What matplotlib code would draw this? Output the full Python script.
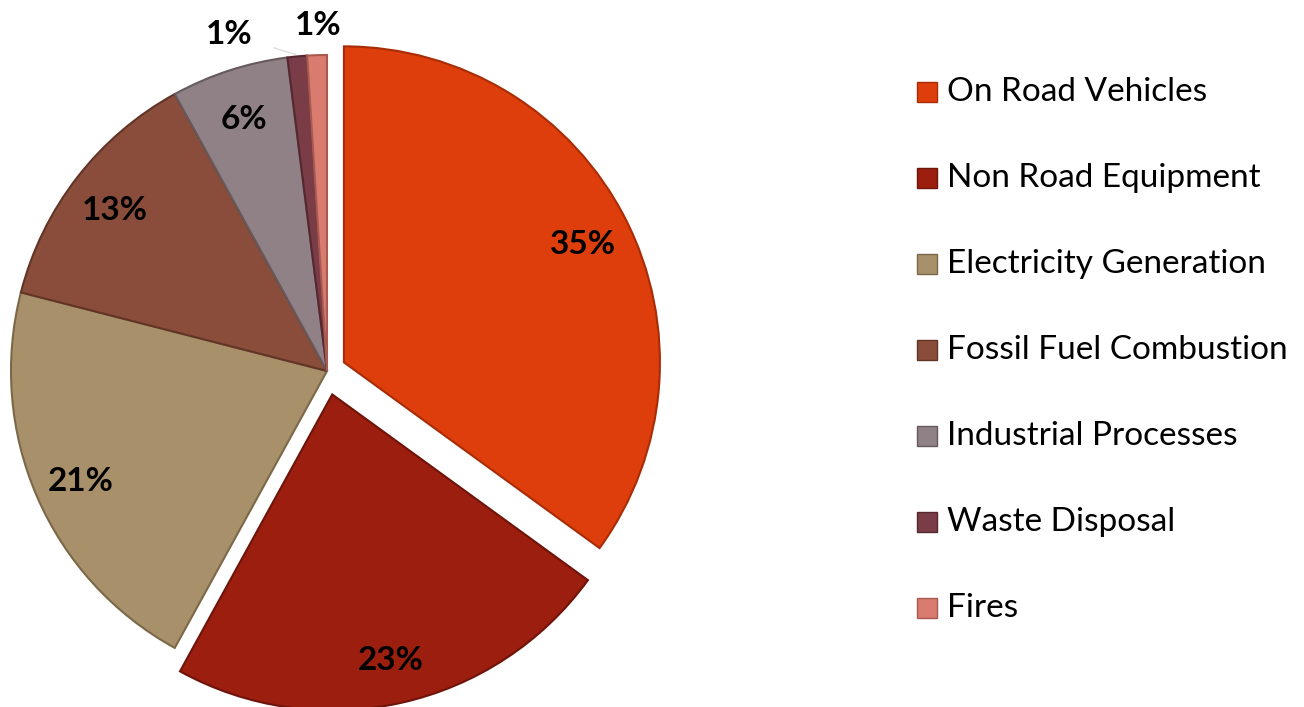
import matplotlib
matplotlib.use("Agg")
import matplotlib.pyplot as plt
from matplotlib.patches import Rectangle
import numpy as np

plt.rcParams['font.family'] = ['Lato', 'DejaVu Sans']

categories = ["On Road Vehicles", "Non Road Equipment", "Electricity Generation",
              "Fossil Fuel Combustion", "Industrial Processes", "Waste Disposal", "Fires"]
shares = [35, 23, 21, 13, 6, 1, 1]
colors = ["#DD3E0C", "#9B1E0F", "#A8916A", "#8A4D3B", "#8F8185", "#7A3C46", "#D97B6F"]
edges = ["#A82C06", "#6E140A", "#7A6848", "#623426", "#665A5D", "#552830", "#A85A50"]
# explode offsets in pixels (pie explode is in data units here)
explode = [19, 24, 0, 0, 0, 0, 0]

W, H = 1304, 707
fig = plt.figure(figsize=(W / 100, H / 100), dpi=100)
ax = fig.add_axes([0, 0, 1, 1])

cx, cy, R = 327, 336, 316
wedges, texts = ax.pie(shares, colors=colors, explode=explode, startangle=90,
                       counterclock=False, center=(cx, cy), radius=R,
                       wedgeprops=dict(linewidth=1.5), labels=None)
for w, ec in zip(wedges, edges):
    w.set_edgecolor(ec)
ax.set_xlim(0, W)
ax.set_ylim(0, H)
ax.set_aspect("equal")
ax.axis("off")

# percentage labels
for i, w in enumerate(wedges):
    ang = np.deg2rad((w.theta1 + w.theta2) / 2)
    wx, wy = w.center
    lbl = "%d%%" % shares[i]
    if shares[i] >= 5:
        d = 0.85 * R
        ax.text(wx + d * np.cos(ang), wy + d * np.sin(ang) - 4, lbl, ha="center",
                va="center", fontsize=24, fontweight="bold", color="black")
    else:
        px, py = wx + R * np.cos(ang), wy + R * np.sin(ang)
        if i == 5:
            ax.annotate(lbl, xy=(px - 2, py + 2), xytext=(px - 68, py + 22),
                        ha="center", va="center", fontsize=24, fontweight="bold",
                        arrowprops=dict(arrowstyle="-", color="#DDDDDD", lw=1,
                                        shrinkA=14, shrinkB=0))
        else:
            ax.text(px + 1, py + 30, lbl, ha="center", va="center",
                    fontsize=24, fontweight="bold")

# legend
lx, ly0, dy = 917, H - 92, 86
for i, name in enumerate(categories):
    y = ly0 - i * dy
    ax.add_patch(Rectangle((lx, y - 10), 20, 20, facecolor=colors[i],
                           edgecolor=edges[i], linewidth=1))
    ax.text(lx + 30, y, name, ha="left", va="center", fontsize=24, color="black")

fig.savefig("out.png", dpi=100)
